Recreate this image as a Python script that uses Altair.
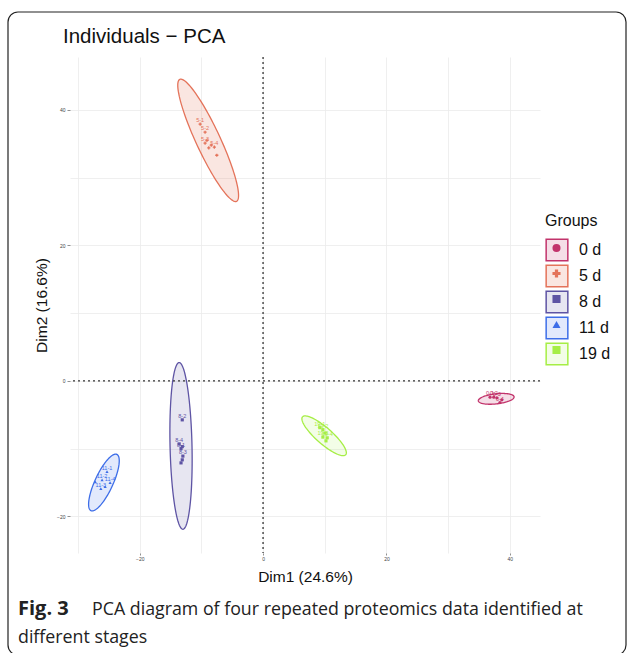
import numpy as np
import pandas as pd
import altair as alt

# ---- groups and styling -------------------------------------------------
groups = ["0 d", "5 d", "8 d", "11 d", "19 d"]
days = [0, 5, 8, 11, 19]
line_colors = ["#C2336B", "#E4735A", "#5E54A4", "#3E6EE8", "#A6EE45"]
fill_colors = ["rgba(194,51,107,0.16)", "rgba(228,115,90,0.18)",
               "rgba(94,84,164,0.15)", "rgba(62,110,232,0.15)",
               "rgba(166,238,69,0.13)"]
point_shapes = ["circle", "cross", "square", "triangle-up", "square"]

# ---- confidence ellipses: centre, major and minor semi-axis vectors -------
ell_cx = [37.8, -8.9, -13.3, -25.8, 9.9]
ell_cy = [-2.65, 35.5, -9.6, -15.0, -8.1]
ell_ax = [2.9, -4.6, 0.3, 2.1, -3.5]
ell_ay = [0.3, 9.0, -12.3, 4.15, 2.8]
ell_bx = [0.1, 1.77, 1.78, 1.33, 0.86]
ell_by = [-0.74, 0.75, 0.0, -0.56, 0.88]

# ---- individuals ----------------------------------------------------------
ind_day = ([0] * 5 + [5] * 8 + [8] * 7 + [11] * 6 + [19] * 6)
ind_label = (["0-1", "0-2", "0-3", "0-4", ""]
             + ["5-1", "5-2", "", "5-3", "", "5-4", "", ""]
             + ["8-2", "8-4", "", "8-1", "8-3", "", ""]
             + ["11-1", "11-2", "", "11-3", "11-4", ""]
             + ["19-1", "19-2", "", "19-3", "19-4", ""])
ind_dim1 = ([36.8, 37.4, 37.9, 38.4, 38.7]
            + [-10.2, -9.4, -9.1, -9.4, -8.4, -7.9, -7.5, -8.8]
            + [-13.1, -13.6, -13.1, -13.3, -13.0, -13.1, -13.3]
            + [-25.3, -26.1, -25.6, -26.3, -24.8, -27.2]
            + [9.2, 9.7, 10.05, 9.7, 10.4, 10.2])
ind_dim2 = ([-2.4, -2.4, -2.5, -3.2, -2.8]
            + [37.9, 36.7, 35.5, 35.1, 34.8, 34.5, 33.3, 34.4]
            + [-5.75, -9.3, -9.7, -10.0, -11.1, -11.65, -12.1]
            + [-13.4, -14.6, -15.6, -15.9, -15.0, -14.9]
            + [-6.9, -7.2, -7.7, -8.3, -8.4, -8.85])

title_text = ["Individuals \u2212 PCA"]
x_title = "Dim1 (24.6%)"
y_title = "Dim2 (16.6%)"
caption_bold = ["Fig. 3"]
caption_line1 = ["PCA diagram of four repeated proteomics data identified at"]
caption_line2 = ["different stages"]

X_DOMAIN = [-31.3, 44.9]
Y_DOMAIN = [-25.4, 47.8]
FONT = "Liberation Sans"

# ---- build tables ---------------------------------------------------------
t = np.linspace(0, 2 * np.pi, 121)
ell_rows = []
for i, g in enumerate(groups):
    xs_ = ell_cx[i] + ell_ax[i] * np.cos(t) + ell_bx[i] * np.sin(t)
    ys_ = ell_cy[i] + ell_ay[i] * np.cos(t) + ell_by[i] * np.sin(t)
    for k, (a, b) in enumerate(zip(xs_, ys_)):
        ell_rows.append({"group": g, "k": k, "Dim1": a, "Dim2": b})
ell_df = pd.DataFrame(ell_rows)

ind_df = pd.DataFrame({"day": ind_day, "label": ind_label,
                       "Dim1": ind_dim1, "Dim2": ind_dim2})

xs = alt.Scale(domain=X_DOMAIN, nice=False, zero=False)
ys = alt.Scale(domain=Y_DOMAIN, nice=False, zero=False)
stroke_scale = alt.Scale(domain=groups, range=line_colors)
fill_scale = alt.Scale(domain=groups, range=fill_colors)
point_color_scale = alt.Scale(domain=days, range=line_colors)
shape_scale = alt.Scale(domain=days, range=point_shapes)

hide_minor_tick = {"condition": {"test": "datum.value % 20 !== 0", "value": 0}, "value": 1}

x_axis = alt.Axis(values=list(range(-30, 41, 10)),
                  labelExpr="datum.value % 20 === 0 ? datum.label : ''",
                  tickOpacity=hide_minor_tick, grid=True, gridColor="#EBEBEB",
                  gridWidth=0.8, domain=False, tickSize=2, tickColor="#444",
                  tickWidth=0.6, labelFontSize=5, labelColor="#444",
                  labelPadding=1, title=x_title, titleFontSize=15.5,
                  titleFontWeight="normal", titleColor="#111", titleFont=FONT,
                  titlePadding=8)
y_axis = alt.Axis(values=list(range(-20, 41, 10)),
                  labelExpr="datum.value % 20 === 0 ? datum.label : ''",
                  tickOpacity=hide_minor_tick, grid=True, gridColor="#EBEBEB",
                  gridWidth=0.8, domain=False, tickSize=3, tickColor="#444",
                  tickWidth=0.6, labelFontSize=5, labelColor="#444",
                  labelPadding=2, title=y_title, titleFontSize=15.5,
                  titleFontWeight="normal", titleColor="#111", titleFont=FONT,
                  titlePadding=7)

LEG_X, LEG_Y = 475, 156

# boxed keys: stroke + fill of the ellipses
box_legend = alt.Legend(title="Groups", orient="none",
                        legendX=LEG_X, legendY=LEG_Y,
                        symbolType="square", symbolSize=470,
                        symbolStrokeWidth=1.5,
                        titleFontSize=16, titleFontWeight="normal",
                        titleFont=FONT, titleColor="#111",
                        titlePadding=9, labelFont=FONT,
                        labelFontSize=16, labelColor="#111",
                        labelOffset=10, rowPadding=-4.3)

# marker glyphs drawn inside the boxes (title and labels left transparent)
glyph_legend = alt.Legend(title="Groups", orient="none",
                          legendX=LEG_X + 3.5, legendY=LEG_Y + 2,
                          symbolSize=65, symbolStrokeWidth=0,
                          titleFontSize=16, titleFontWeight="normal",
                          titleFont=FONT, titleOpacity=0,
                          titlePadding=9, labelFont=FONT,
                          labelFontSize=16, labelOpacity=0,
                          labelOffset=10, rowPadding=9.5)

# filled confidence ellipses
ellipses = alt.Chart(ell_df).mark_line(strokeWidth=1.3).encode(
    x=alt.X("Dim1:Q", scale=xs, axis=x_axis),
    y=alt.Y("Dim2:Q", scale=ys, axis=y_axis),
    stroke=alt.Stroke("group:N", scale=stroke_scale, sort=groups, legend=box_legend),
    fill=alt.Fill("group:N", scale=fill_scale, sort=groups, legend=box_legend),
    detail="group:N",
    order="k:Q",
)

# dashed zero reference lines
zero_v = alt.Chart(pd.DataFrame({"v": [0]})).mark_rule(
    color="#333", strokeDash=[2, 3], strokeWidth=1.3).encode(x=alt.X("v:Q", scale=xs))
zero_h = alt.Chart(pd.DataFrame({"v": [0]})).mark_rule(
    color="#333", strokeDash=[2, 3], strokeWidth=1.3).encode(y=alt.Y("v:Q", scale=ys))

points = alt.Chart(ind_df).mark_point(filled=True, size=10, opacity=1).encode(
    x=alt.X("Dim1:Q", scale=xs),
    y=alt.Y("Dim2:Q", scale=ys),
    color=alt.Color("day:O", scale=point_color_scale, sort=days, legend=glyph_legend),
    shape=alt.Shape("day:O", scale=shape_scale, sort=days, legend=glyph_legend),
)

labels = alt.Chart(ind_df).transform_filter("datum.label != ''").mark_text(
    fontSize=5.5, dy=-4, font=FONT).encode(
    x=alt.X("Dim1:Q", scale=xs),
    y=alt.Y("Dim2:Q", scale=ys),
    text="label:N",
    color=alt.Color("day:O", scale=point_color_scale, sort=days, legend=glyph_legend),
)

# plot title, figure caption and frame
def text_line(lines, x, y, size, font, weight="normal", color="#222"):
    return alt.Chart(pd.DataFrame({"t": lines})).mark_text(
        font=font, fontWeight=weight, fontSize=size, align="left",
        baseline="alphabetic", color=color).encode(
        x=alt.value(x), y=alt.value(y), text="t:N")

plot_title = text_line(title_text, -7, -14, 20.5, FONT, color="#111")
cap_bold = text_line(caption_bold, -52, 558, 20, "Open Sans", "bold")
cap_1 = text_line(caption_line1, 22, 558, 17.8, "Open Sans")
cap_2 = text_line(caption_line2, -52, 586, 17.8, "Open Sans")

frame = alt.Chart(pd.DataFrame({"f": [1]})).mark_rect(
    fillOpacity=0, stroke="#222", strokeWidth=1.2, cornerRadius=10).encode(
    x=alt.value(-62), x2=alt.value(556), y=alt.value(-45), y2=alt.value(598))

chart = alt.layer(
    ellipses, zero_v, zero_h, points, labels,
    plot_title, cap_bold, cap_1, cap_2, frame
).properties(
    width=470, height=496,
    padding={"left": 70, "top": 57, "right": 90, "bottom": 100},
    autosize=alt.AutoSizeParams(type="none"),
).configure_view(stroke=None)

chart.save("out.html", embed_options={"renderer": "svg", "actions": False})
